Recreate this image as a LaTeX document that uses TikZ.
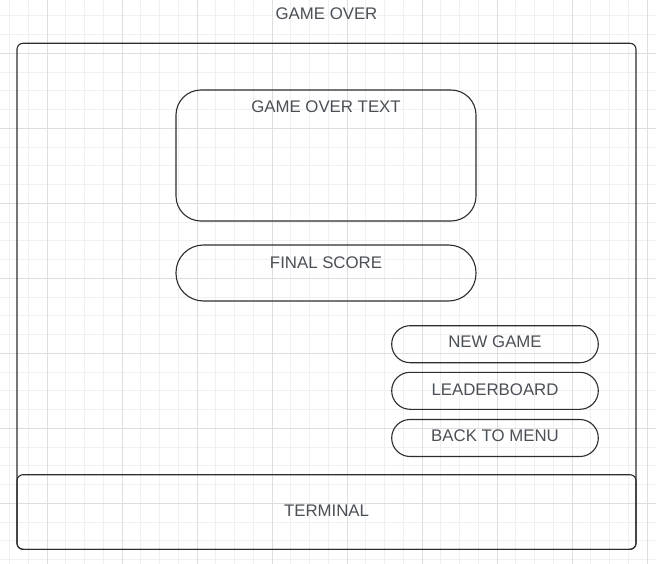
\documentclass[tikz,border=0pt]{standalone}
\usepackage{fontspec}
\setmainfont{Liberation Sans}
\definecolor{gridlight}{RGB}{240,240,240}
\definecolor{griddark}{RGB}{222,222,222}
\definecolor{boxline}{RGB}{45,45,45}
\definecolor{txtcol}{RGB}{75,80,86}
\tikzset{
  box/.style={draw=boxline, line width=1.1pt, rectangle, inner sep=0pt},
  txt/.style={text=txtcol, font=\fontsize{16.8}{20}\selectfont, inner sep=0pt, anchor=base},
}
\begin{document}
\begin{tikzpicture}[x=1pt,y=-1pt]
\useasboundingbox (0,0) rectangle (656,564);
\fill[white] (0,0) rectangle (656,564);
% grid
\foreach \k in {0,...,34} {
  \draw[gridlight, line width=1pt] ({9.5+18.75*\k},0) -- ({9.5+18.75*\k},564);
}
\foreach \k in {0,...,29} {
  \draw[gridlight, line width=1pt] (0,{15.8+18.75*\k}) -- (656,{15.8+18.75*\k});
}
\foreach \k in {0,...,8} {
  \draw[griddark, line width=1pt] ({47.3+75*\k},0) -- ({47.3+75*\k},564);
}
\foreach \k in {0,...,6} {
  \draw[griddark, line width=1pt] (0,{53.3+75*\k}) -- (656,{53.3+75*\k});
}
% container and boxes
\node[box, rounded corners=6pt, minimum width=619pt, minimum height=506pt] (container) at (326.5,296.3) {};
\node[box, rounded corners=25pt, minimum width=300pt, minimum height=131pt] (gobox) at (326,155.5) {};
\node[box, rounded corners=27.5pt, minimum width=300pt, minimum height=56pt] (scorebox) at (326,273) {};
\node[box, rounded corners=18.4pt, minimum width=206.6pt, minimum height=37pt] (newbox) at (495,344.2) {};
\node[box, rounded corners=18.4pt, minimum width=206.6pt, minimum height=37pt] (leaderbox) at (495,390.8) {};
\node[box, rounded corners=18.4pt, minimum width=206.6pt, minimum height=37pt] (menubox) at (495,438) {};
\node[box, rounded corners=6pt, minimum width=619pt, minimum height=74.6pt] (termbox) at (326.5,512) {};
% labels
\node[txt] (title) at (326.5,19.3) {GAME OVER};
\node[txt] (gotext) at (326,112.7) {GAME OVER TEXT};
\node[txt] (score) at (326,268.3) {FINAL SCORE};
\node[txt] (newgame) at (495,347.3) {NEW GAME};
\node[txt] (leader) at (495,395) {LEADERBOARD};
\node[txt] (menu) at (495,441.7) {BACK TO MENU};
\node[txt] (terminal) at (326.5,516) {TERMINAL};
\end{tikzpicture}
\end{document}
